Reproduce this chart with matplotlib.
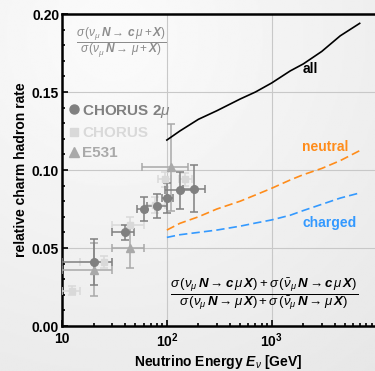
import matplotlib
matplotlib.use('Agg')
import matplotlib.pyplot as plt
import numpy as np
from matplotlib.lines import Line2D

plt.rcParams['font.family'] = ['Liberation Sans', 'DejaVu Sans']
plt.rcParams['mathtext.fontset'] = 'custom'
plt.rcParams['mathtext.rm'] = 'Liberation Sans'
plt.rcParams['mathtext.it'] = 'Liberation Sans:italic'
plt.rcParams['mathtext.bf'] = 'Liberation Sans:bold'
plt.rcParams['mathtext.bfit'] = 'Liberation Sans:bold:italic'

# CHORUS 2mu (dark circles)
c2_E = [20, 40, 60, 80, 100, 133, 182]
c2_r = [0.041, 0.060, 0.075, 0.077, 0.082, 0.087, 0.088]
c2_Elo = [10, 30, 52, 65, 90, 97, 143]
c2_Ehi = [30, 49, 65, 100, 115, 183, 230]
c2_err = [0.015, 0.005, 0.0075, 0.0075, 0.0095, 0.012, 0.015]

# CHORUS (light squares)
ch_E = [12.5, 25, 44.5, 77, 95, 148]
ch_r = [0.0226, 0.041, 0.065, 0.0776, 0.094, 0.094]
ch_Elo = [10, 15, 30, 60, 82, 130]
ch_Ehi = [15, 30, 60, 95, 110, 175]
ch_err = [0.003, 0.004, 0.005, 0.005, 0.005, 0.004]

# E531 (triangles)
e5_E = [20, 44.5, 109]
e5_r = [0.036, 0.050, 0.1017]
e5_Elo = [10, 30, 58]
e5_Ehi = [30, 60, 160]
e5_err = [0.017, 0.013, 0.028]

# model curves
curve_E = [100, 133, 200, 300, 500, 700, 1000, 1500, 2000, 3000, 4500, 6900]
all_r = [0.1192, 0.125, 0.1325, 0.138, 0.1455, 0.150, 0.1558, 0.1635, 0.168, 0.176, 0.186, 0.194]
neutral_r = [0.0615, 0.0658, 0.070, 0.075, 0.080, 0.084, 0.0883, 0.0936, 0.097, 0.101, 0.106, 0.1124]
charged_E = [100, 133, 200, 300, 500, 700, 1000, 1500, 2000, 3000, 4500, 6650]
charged_r = [0.0568, 0.0585, 0.060, 0.0615, 0.064, 0.066, 0.068, 0.071, 0.074, 0.078, 0.082, 0.085]

xticks = [10, 100, 1000]
xtick_labels = ['10', r'10$^{\mathbf{2}}$', r'10$^{\mathbf{3}}$']
yticks = [0.00, 0.05, 0.10, 0.15, 0.20]

fig = plt.figure(figsize=(3.75, 3.71), dpi=100)

# soft grey background gradient
bg = fig.add_axes([0, 0, 1, 1], zorder=-10)
yy, xx = np.mgrid[0:1:200j, 0:1:200j]
grad = 0.985 - 0.07 * np.sqrt((xx - 0.3) ** 2 + (yy - 0.1) ** 2)
bg.imshow(grad, cmap='gray', vmin=0, vmax=1, aspect='auto', extent=[0, 1, 1, 0])
bg.axis('off')

ax = fig.add_axes([62 / 375, 1 - 326 / 371, 1 - 62 / 375, (326 - 14) / 371])
ax.set_facecolor('none')
ax.set_xscale('log')
ax.set_xlim(10, 9660)
ax.set_ylim(0, 0.20)

# grid
for gy in [0.05, 0.10, 0.15]:
    ax.axhline(gy, color='#c8c8c8', lw=0.8, zorder=0)
for gx in [100, 1000]:
    ax.axvline(gx, color='#c8c8c8', lw=0.8, zorder=0)

def draw_points(E, r, Elo, Ehi, err, marker, color, ms):
    E = np.array(E)
    xerr = [E - np.array(Elo), np.array(Ehi) - E]
    ax.errorbar(E, r, xerr=xerr, yerr=err, fmt=marker, color=color, ms=ms,
                elinewidth=1.1, capsize=3, capthick=1.1, zorder=3)

draw_points(ch_E, ch_r, ch_Elo, ch_Ehi, ch_err, 's', '#d9d9d9', 5)
draw_points(e5_E, e5_r, e5_Elo, e5_Ehi, e5_err, '^', '#a9a9a9', 6)
draw_points(c2_E, c2_r, c2_Elo, c2_Ehi, c2_err, 'o', '#808080', 5.5)

ax.plot(curve_E, all_r, color='black', lw=1.2, zorder=4)
ax.plot(curve_E, neutral_r, color='#ff8c1a', lw=1.2, dashes=(5, 2.5), zorder=4)
ax.plot(charged_E, charged_r, color='#3399ff', lw=1.2, dashes=(5, 2.5), zorder=4)

ax.text(2320, 0.1646, 'all', fontsize=10, fontweight='bold', color='black', ha='center', va='center')
ax.text(3250, 0.115, 'neutral', fontsize=10, fontweight='bold', color='#ff8c1a', ha='center', va='center')
ax.text(3550, 0.0658, 'charged', fontsize=10, fontweight='bold', color='#3399ff', ha='center', va='center')

top_frac = (r'$\dfrac{\sigma\,(\nu_\mu\,\mathbfit{N}\rightarrow\,\mathbfit{c}\,\mu+\mathbfit{X})}'
            r'{\sigma\,(\nu_\mu\,\mathbfit{N}\rightarrow\,\mu+\mathbfit{X})}$')
ax.text(0.191, 0.910, top_frac, transform=ax.transAxes, fontsize=8.6, color='#8c8c8c',
        ha='center', va='center')
bot_frac = (r'$\dfrac{\sigma\,(\nu_\mu\,\mathbfit{N}\rightarrow\mathbfit{c}\,\mu\,\mathbfit{X})+'
            r'\sigma\,(\bar{\nu}_\mu\,\mathbfit{N}\rightarrow\mathbfit{c}\,\mu\,\mathbfit{X})}'
            r'{\sigma\,(\nu_\mu\,\mathbfit{N}\rightarrow\mu\,\mathbfit{X})+'
            r'\sigma\,(\bar{\nu}_\mu\,\mathbfit{N}\rightarrow\mu\,\mathbfit{X})}$')
ax.text(0.645, 0.1026, bot_frac, transform=ax.transAxes, fontsize=9.5, color='black',
        ha='center', va='center')

handles = [
    Line2D([], [], marker='o', ls='', color='#808080', ms=6.5),
    Line2D([], [], marker='s', ls='', color='#d9d9d9', ms=5.5),
    Line2D([], [], marker='^', ls='', color='#a9a9a9', ms=6.5),
]
leg = ax.legend(handles, [r'CHORUS 2$\mu$', 'CHORUS', 'E531'], loc='upper left',
                bbox_to_anchor=(-0.02, 0.76), frameon=False, handlelength=0.6,
                handletextpad=0.25, labelspacing=0.42,
                prop={'weight': 'bold', 'size': 11},
                labelcolor=['#808080', '#d9d9d9', '#a9a9a9'])

ax.set_xticks(xticks)
ax.set_xticklabels(xtick_labels)
ax.set_yticks(yticks)
ax.set_yticklabels(['%.2f' % v for v in yticks])
ax.set_yticks(np.arange(0, 0.2001, 0.01), minor=True)
ax.tick_params(which='both', direction='in', labelsize=10, width=1.2, color='black')
ax.tick_params(which='major', length=4)
ax.tick_params(axis='y', which='major', pad=2)
ax.tick_params(axis='x', which='major', pad=4)
ax.tick_params(which='minor', length=2.5)
for lab in ax.get_xticklabels() + ax.get_yticklabels():
    lab.set_fontweight('bold')

ax.spines['right'].set_visible(False)
for s in ['left', 'bottom', 'top']:
    ax.spines[s].set_linewidth(1.8)

ax.set_ylabel('relative charm hadron rate', fontsize=10, fontweight='bold', labelpad=3)
ax.set_xlabel(r'Neutrino Energy $\mathbfit{E}_{\nu}$ [GeV]', fontsize=10, fontweight='bold', labelpad=2)

fig.savefig('out.png', dpi=100)
